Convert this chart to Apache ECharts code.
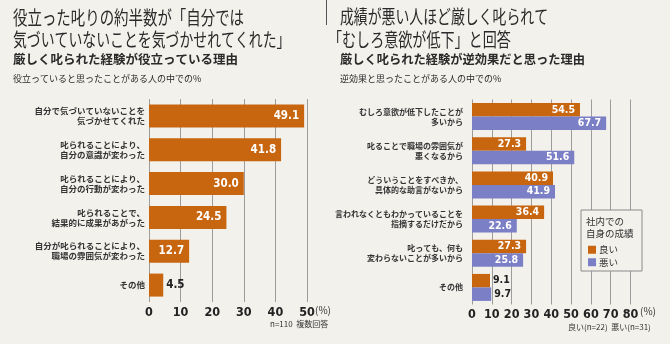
<!DOCTYPE html>
<html><head><meta charset="utf-8">
<script src="https://cdn.jsdelivr.net/npm/echarts@6/dist/echarts.min.js"></script>
<style>html,body{margin:0;padding:0;background:#f3f1ec;}#c{width:670px;height:344px;}</style>
</head><body><div id="c"></div>
<script>
// ---- data ----
const leftCategories = [
  "自分で気づいていないことを\n気づかせてくれた",
  "叱られることにより、\n自分の意識が変わった",
  "叱られることにより、\n自分の行動が変わった",
  "叱られることで、\n結果的に成果があがった",
  "自分が叱られることにより、\n職場の雰囲気が変わった",
  "その他"
];
const leftValues = [49.1, 41.8, 30.0, 24.5, 12.7, 4.5];
const leftTicks = [0, 10, 20, 30, 40, 50];

const rightCategories = [
  "むしろ意欲が低下したことが\n多いから",
  "叱ることで職場の雰囲気が\n悪くなるから",
  "どういうことをすべきか、\n具体的な助言がないから",
  "言われなくともわかっていることを\n指摘するだけだから",
  "叱っても、何も\n変わらないことが多いから",
  "その他"
];
const rightGood = [54.5, 27.3, 40.9, 36.4, 27.3, 9.1];
const rightBad = [67.7, 51.6, 41.9, 22.6, 25.8, 9.7];
const rightTicks = [0, 10, 20, 30, 40, 50, 60, 70, 80];
const seriesNames = ["良い", "悪い"];

// ---- styles ----
const ORANGE = "#c8650f";
const BLUE = "#7b7fc5";
const GRID = "#9c9c9c";
const CJK = "'Noto Sans CJK JP', sans-serif";
const NUM = "'Liberation Sans Narrow', 'DejaVu Sans Condensed', 'Roboto', sans-serif";

function labelled(values, threshold) {
  return values.map(v => v < threshold
    ? { value: v, label: { position: 'right', distance: 3, color: '#222' } }
    : { value: v });
}
function valueLabel(fs) {
  return { show: true, position: 'insideRight', distance: 5, color: '#fff',
    fontFamily: NUM, fontWeight: 'bold', fontSize: fs,
    formatter: p => p.value.toFixed(1) };
}
function xAxisCfg(gridIndex, ticks) {
  return { type: 'value', gridIndex, min: ticks[0], max: ticks[ticks.length - 1],
    interval: ticks[1] - ticks[0],
    axisLine: { show: false }, axisTick: { show: false },
    splitLine: { show: true, lineStyle: { color: GRID, width: 1 } },
    axisLabel: { margin: 4, color: '#222', fontFamily: NUM, fontWeight: 'bold', fontSize: 12.5 } };
}
function yAxisCfg(gridIndex, cats, fs, margin, lh) {
  return { type: 'category', gridIndex, data: cats, inverse: true,
    axisLine: { show: false }, axisTick: { show: false },
    axisLabel: { margin, color: '#333', fontFamily: CJK, fontWeight: 'bold', fontSize: fs, lineHeight: lh, align: 'right' } };
}
function titleText(x, y, text, size, weight, scaleX) {
  return { type: 'text', x, y, scaleX: scaleX || 1, originX: 0, originY: 0,
    style: { text, fill: '#2a2a2a', font: weight + ' ' + size + 'px ' + CJK, textVerticalAlign: 'middle' } };
}

const chart = echarts.init(document.getElementById('c'), null, { renderer: 'canvas' });
chart.setOption({
  backgroundColor: '#f3f1ec',
  animation: false,
  grid: [
    { left: 149, top: 99, width: 158, height: 203 },
    { left: 472, top: 99.5, width: 158.5, height: 205 }
  ],
  xAxis: [xAxisCfg(0, leftTicks), xAxisCfg(1, rightTicks)],
  yAxis: [yAxisCfg(0, leftCategories, 8.5, 4, 10), yAxisCfg(1, rightCategories, 8, 9, 10)],
  legend: {
    data: seriesNames, orient: 'vertical', left: 583, top: 240, z: 50,
    itemWidth: 8, itemHeight: 8, itemGap: 3, icon: 'rect',
    textStyle: { fontFamily: CJK, fontSize: 9.5, color: '#333', padding: [0, 0, 0, -2] }
  },
  series: [
    { type: 'bar', xAxisIndex: 0, yAxisIndex: 0, data: labelled(leftValues, 10),
      barWidth: 23, itemStyle: { color: ORANGE }, label: valueLabel(11.5), legendHoverLink: false },
    { name: seriesNames[0], type: 'bar', xAxisIndex: 1, yAxisIndex: 1, data: labelled(rightGood, 10),
      barWidth: 13.5, barGap: '0%', itemStyle: { color: ORANGE }, label: valueLabel(10.5) },
    { name: seriesNames[1], type: 'bar', xAxisIndex: 1, yAxisIndex: 1, data: labelled(rightBad, 10),
      barWidth: 13.5, barGap: '0%', itemStyle: { color: BLUE }, label: valueLabel(10.5) }
  ],
  graphic: [
    { type: 'line', shape: { x1: 326.5, y1: 0, x2: 326.5, y2: 25 }, style: { stroke: '#555', lineWidth: 1 } },
    titleText(13, 18, "役立った叱りの約半数が「自分では", 19, 'normal', 0.76),
    titleText(13, 39.5, "気づいていないことを気づかせれてくれた」", 19, 'normal', 0.73),
    titleText(13, 59, "厳しく叱られた経験が役立っている理由", 12.5, 'bold', 1),
    titleText(13, 78.5, "役立っていると思ったことがある人の中での%", 9, 'normal', 1),
    titleText(340, 17, "成績が悪い人ほど厳しく叱られて", 19, 'normal', 0.73),
    titleText(328, 39.5, "「むしろ意欲が低下」と回答", 19, 'normal', 0.74),
    titleText(340, 59, "厳しく叱られた経験が逆効果だと思った理由", 12.5, 'bold', 0.98),
    titleText(340, 78.5, "逆効果と思ったことがある人の中での%", 9, 'normal', 1),
    { type: 'text', x: 315, y: 310, style: { text: "(%)", fill: '#333', font: 'normal 10px ' + CJK, textVerticalAlign: 'middle' } },
    { type: 'text', x: 640, y: 311, style: { text: "(%)", fill: '#333', font: 'normal 10px ' + CJK, textVerticalAlign: 'middle' } },
    { type: 'text', x: 270, y: 324, style: { text: "n=110  複数回答", fill: '#333', font: 'normal 8px ' + CJK, textVerticalAlign: 'middle' } },
    { type: 'text', x: 568, y: 327, style: { text: "良い(n=22)  悪い(n=31)", fill: '#333', font: 'normal 8px ' + CJK, textVerticalAlign: 'middle' } },
    { type: 'rect', shape: { x: 581, y: 210, width: 61, height: 61 }, style: { fill: '#f3f1ec', stroke: '#8a8a8a', lineWidth: 1 }, z: 10 },
    { type: 'text', x: 586, y: 221, z: 11, style: { text: "社内での", fill: '#333', font: 'normal 9.5px ' + CJK, textVerticalAlign: 'middle' } },
    { type: 'text', x: 586, y: 233.5, z: 11, style: { text: "自身の成績", fill: '#333', font: 'normal 9.5px ' + CJK, textVerticalAlign: 'middle' } }
  ]
});
</script>
</body></html>
